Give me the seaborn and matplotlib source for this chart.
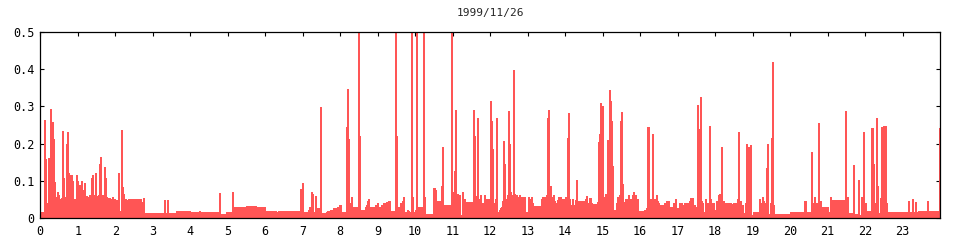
import numpy as np
import pandas as pd
import matplotlib
matplotlib.use("Agg")
import matplotlib.pyplot as plt
import seaborn as sns

title = "1999/11/26"
x_ticks = list(range(0, 24))
y_ticks = [0, 0.1, 0.2, 0.3, 0.4, 0.5]
y_tick_labels = ["0", "0.1", "0.2", "0.3", "0.4", "0.5"]

# step series: each value holds from its minute until the next minute entry
minutes = [
    0, 6.4, 7.4, 9.0, 10.6, 12.8, 13.8, 15.4, 17.0, 18.6, 20.2, 21.8, 23.9, 25.5, 27.1, 28.7,
    30.3, 31.9, 33.5, 35.1, 36.7, 38.3, 39.9, 41.5, 43.1, 44.7, 46.3, 47.9, 49.5, 51.1, 52.7,
    55.9, 57.5, 59.1, 60.6, 62.2, 63.8, 65.4, 67.0, 68.6, 70.2, 71.8, 73.4, 75.0, 78.2, 81.4,
    83.0, 84.6, 86.2, 87.8, 89.4, 92.6, 94.2, 95.8, 97.4, 99.0, 100.5, 102.1, 103.7, 105.3,
    106.9, 108.5, 111.7, 113.3, 114.9, 116.5, 118.1, 119.7, 121.3, 122.9, 124.5, 126.1, 127.7,
    129.3, 130.9, 132.5, 134.1, 135.7, 137.3, 140.4, 161.7, 163.3, 164.9, 166.5, 180.3, 198.0,
    199.6, 202.7, 204.3, 217.6, 223.0, 240.0, 253.8, 255.4, 286.8, 288.4, 298.0, 306.4, 308.0,
    330.0, 345.0, 360.0, 378.0, 381.0, 415.5, 417.1, 418.7, 420.3, 428.3, 429.9, 433.1, 434.7,
    436.3, 438.4, 440.0, 441.6, 443.2, 444.8, 448.0, 449.6, 457.0, 458.7, 463.5, 468.8, 474.1,
    477.3, 479.5, 481.0, 489.0, 490.7, 492.3, 493.9, 495.5, 497.1, 498.7, 508.3, 509.9, 511.5,
    516.8, 519.5, 521.0, 522.7, 524.3, 525.9, 535.5, 538.7, 540.3, 546.1, 548.8, 554.1, 556.8,
    560.0, 568.0, 569.6, 571.2, 572.8, 574.4, 576.0, 579.2, 580.8, 582.4, 587.7, 589.3, 590.9,
    593.0, 594.7, 596.3, 597.9, 599.5, 601.1, 602.7, 604.3, 612.3, 613.9, 615.5, 628.8, 632.0,
    633.6, 641.6, 643.2, 644.8, 657.0, 659.2, 660.8, 662.4, 664.0, 665.6, 667.2, 668.8, 670.9,
    672.5, 674.7, 676.3, 679.5, 692.3, 693.9, 695.5, 697.1, 698.7, 700.3, 703.5, 705.1, 708.3,
    709.9, 711.5, 713.1, 719.5, 721.1, 722.7, 724.3, 727.5, 729.1, 730.7, 733.9, 735.5, 737.1,
    738.7, 740.3, 741.9, 743.5, 746.7, 748.3, 749.9, 751.5, 753.1, 754.7, 756.3, 757.9, 759.5,
    761.1, 762.7, 764.3, 765.9, 767.5, 769.1, 770.7, 775.5, 780.3, 781.9, 783.5, 785.1, 786.7,
    788.3, 801.1, 802.7, 804.3, 805.9, 807.5, 809.1, 810.7, 812.3, 813.9, 815.5, 817.1, 818.7,
    820.3, 821.9, 823.5, 826.7, 828.3, 829.9, 831.5, 833.1, 834.7, 837.9, 839.5, 841.1, 842.7,
    844.3, 845.9, 847.5, 850.7, 852.3, 853.9, 855.5, 857.1, 858.7, 871.5, 873.1, 874.7, 876.3,
    877.9, 881.1, 882.7, 891.7, 893.3, 894.9, 896.5, 898.1, 899.7, 901.3, 902.9, 904.5, 906.1,
    907.7, 909.3, 910.9, 912.5, 914.1, 915.7, 917.3, 922.1, 923.7, 925.3, 926.9, 928.5, 930.1,
    931.7, 933.3, 936.5, 939.7, 941.3, 942.9, 946.1, 947.7, 949.3, 950.9, 952.5, 954.1, 957.3,
    958.9, 966.4, 969.6, 971.2, 974.4, 976.0, 977.6, 979.2, 980.8, 982.4, 985.6, 987.2, 988.8,
    990.4, 998.4, 1001.6, 1003.2, 1004.8, 1006.4, 1011.2, 1012.8, 1014.4, 1016.0, 1017.6,
    1019.2, 1020.8, 1022.4, 1024.0, 1025.6, 1027.2, 1028.8, 1030.4, 1032.0, 1033.6, 1038.4,
    1040.0, 1044.3, 1047.5, 1050.7, 1052.3, 1053.9, 1055.5, 1057.1, 1058.7, 1060.3, 1063.5,
    1065.1, 1070.4, 1072.0, 1073.6, 1075.2, 1076.8, 1078.4, 1080.0, 1081.6, 1083.2, 1084.8,
    1086.4, 1088.0, 1089.6, 1091.2, 1092.8, 1094.4, 1105.0, 1108.3, 1114.7, 1116.3, 1117.9,
    1119.5, 1121.1, 1122.7, 1124.3, 1127.5, 1129.1, 1130.7, 1132.3, 1133.9, 1135.5, 1137.1,
    1140.3, 1149.9, 1151.5, 1153.1, 1154.7, 1156.3, 1157.9, 1161.1, 1162.7, 1164.3, 1167.5,
    1169.1, 1170.7, 1172.3, 1173.9, 1199.5, 1221.9, 1225.1, 1233.6, 1235.2, 1238.4, 1240.0,
    1244.8, 1246.4, 1248.0, 1249.6, 1260.8, 1264.0, 1265.6, 1288.0, 1290.1, 1292.8, 1300.8,
    1302.4, 1308.8, 1310.4, 1313.6, 1315.2, 1316.8, 1318.4, 1321.6, 1329.6, 1332.8, 1334.4,
    1337.6, 1339.2, 1340.8, 1344.0, 1345.6, 1347.2, 1348.8, 1350.4, 1352.0, 1353.6, 1355.2,
    1388.8, 1390.4, 1395.2, 1396.8, 1400.0, 1401.6, 1404.8, 1419.2, 1420.8, 1438.4, 1440.0,
]
values = [
    0.015, 0.264, 0.158, 0.040, 0.025, 0.160, 0.058, 0.293, 0.222, 0.258, 0.212, 0.096, 0.055, 0.025, 0.068, 0.060,
    0.050, 0.030, 0.052, 0.233, 0.107, 0.055, 0.056, 0.200, 0.232, 0.120, 0.115, 0.058, 0.114, 0.100, 0.050,
    0.045, 0.114, 0.100, 0.058, 0.087, 0.052, 0.100, 0.074, 0.065, 0.093, 0.050, 0.058, 0.055, 0.060, 0.108,
    0.114, 0.060, 0.040, 0.120, 0.058, 0.060, 0.146, 0.163, 0.052, 0.060, 0.054, 0.136, 0.108, 0.055,
    0.045, 0.052, 0.050, 0.047, 0.055, 0.048, 0.050, 0.045, 0.048, 0.045, 0.120, 0.018, 0.010,
    0.236, 0.082, 0.064, 0.045, 0.050, 0.048, 0.050, 0.010, 0.042, 0.052, 0.012, 0.014, 0.047,
    0.014, 0.047, 0.014, 0.017, 0.018, 0.015, 0.018, 0.015, 0.066, 0.010, 0.015, 0.069, 0.029,
    0.031, 0.029, 0.018, 0.016, 0.018, 0.077, 0.040, 0.093, 0.015, 0.020, 0.030, 0.068, 0.065,
    0.010, 0.015, 0.058, 0.020, 0.025, 0.027, 0.298, 0.012, 0.015, 0.018, 0.020, 0.025, 0.030,
    0.034, 0.035, 0.015, 0.245, 0.347, 0.213, 0.035, 0.040, 0.055, 0.030, 0.600, 0.220, 0.020,
    0.022, 0.028, 0.035, 0.045, 0.050, 0.030, 0.035, 0.040, 0.030, 0.035, 0.040, 0.042, 0.045,
    0.018, 0.600, 0.220, 0.020, 0.028, 0.030, 0.040, 0.045, 0.055, 0.015, 0.020, 0.018, 0.015,
    0.600, 0.056, 0.012, 0.015, 0.020, 0.600, 0.020, 0.030, 0.600, 0.055, 0.010, 0.080, 0.075,
    0.045, 0.085, 0.190, 0.035, 0.600, 0.035, 0.070, 0.125, 0.290, 0.060, 0.065, 0.008, 0.060,
    0.008, 0.070, 0.050, 0.042, 0.290, 0.220, 0.008, 0.058, 0.270, 0.050, 0.060, 0.040, 0.040,
    0.060, 0.030, 0.050, 0.315, 0.260, 0.185, 0.040, 0.050, 0.270, 0.015, 0.020, 0.025, 0.030,
    0.045, 0.206, 0.145, 0.050, 0.060, 0.288, 0.198, 0.070, 0.055, 0.060, 0.397, 0.065, 0.050,
    0.060, 0.055, 0.030, 0.060, 0.055, 0.030, 0.055, 0.015, 0.055, 0.048, 0.050, 0.055, 0.040,
    0.032, 0.050, 0.055, 0.045, 0.055, 0.010, 0.062, 0.270, 0.290, 0.040, 0.085, 0.038, 0.055,
    0.060, 0.045, 0.040, 0.048, 0.055, 0.015, 0.055, 0.040, 0.050, 0.020, 0.055, 0.042, 0.215,
    0.282, 0.050, 0.035, 0.050, 0.020, 0.035, 0.048, 0.103, 0.045, 0.050, 0.058, 0.040, 0.018,
    0.052, 0.040, 0.038, 0.042, 0.203, 0.225, 0.310, 0.290, 0.300, 0.055, 0.045, 0.065, 0.015,
    0.210, 0.045, 0.344, 0.316, 0.260, 0.140, 0.020, 0.040, 0.055, 0.045, 0.060, 0.260, 0.285,
    0.090, 0.042, 0.050, 0.045, 0.060, 0.050, 0.010, 0.060, 0.070, 0.050, 0.060, 0.050, 0.015,
    0.018, 0.020, 0.025, 0.245, 0.045, 0.050, 0.035, 0.226, 0.020, 0.050, 0.060, 0.045, 0.040,
    0.035, 0.040, 0.045, 0.040, 0.045, 0.028, 0.030, 0.040, 0.030, 0.050, 0.025,
    0.020, 0.025, 0.040, 0.025, 0.040, 0.035, 0.030, 0.040, 0.035, 0.040, 0.045,
    0.052, 0.035, 0.030, 0.304, 0.240, 0.095, 0.325, 0.045, 0.040, 0.015, 0.050,
    0.040, 0.248, 0.050, 0.040, 0.015, 0.040, 0.015, 0.020, 0.045, 0.020, 0.060,
    0.065, 0.045, 0.190, 0.040, 0.045, 0.040, 0.038, 0.040, 0.050, 0.230, 0.040,
    0.045, 0.012, 0.035, 0.012, 0.040, 0.198, 0.050, 0.192, 0.035, 0.196, 0.008,
    0.015, 0.050, 0.015, 0.040, 0.055, 0.045, 0.040, 0.135, 0.198, 0.010, 0.040,
    0.215, 0.420, 0.035, 0.010, 0.015, 0.045, 0.015, 0.177, 0.040, 0.055, 0.040,
    0.255, 0.030, 0.045, 0.030, 0.015, 0.055, 0.048, 0.287, 0.055, 0.012, 0.142,
    0.010, 0.102, 0.008, 0.055, 0.050, 0.230, 0.040, 0.018, 0.241, 0.145, 0.040,
    0.268, 0.085, 0.012, 0.053, 0.245, 0.012, 0.248, 0.010, 0.248, 0.040, 0.015,
    0.045, 0.015, 0.050, 0.015, 0.042, 0.015, 0.018, 0.045, 0.018, 0.241, 0.020,
]

n = min(len(minutes), len(values))
df = pd.DataFrame({"hour": np.array(minutes[:n]) / 60.0, "value": values[:n]})

sns.set_style("ticks")
plt.rcParams["font.family"] = ["DejaVu Sans Mono"]

color = "#ff5555"
fig = plt.figure(figsize=(9.6, 2.4), dpi=100)
ax = fig.add_axes([40.3 / 960, 22.3 / 240, 899.7 / 960, 185.4 / 240])

ax.fill_between(df["hour"], 0, df["value"], step="post", color=color,
                linewidth=0, antialiased=False, zorder=1)
sns.lineplot(data=df, x="hour", y="value", drawstyle="steps-post", color=color,
             linewidth=0.7, antialiased=False, ax=ax, zorder=1)

ax.set_xlim(0, 24)
ax.set_ylim(0, 0.5)
ax.set_xticks(x_ticks)
ax.set_xticklabels([str(t) for t in x_ticks])
ax.set_yticks(y_ticks)
ax.set_yticklabels(y_tick_labels)
ax.set_xlabel("")
ax.set_ylabel("")
ax.set_axisbelow(True)
ax.tick_params(axis="both", direction="in", length=3, width=0.8, labelsize=8.5,
               colors="black", top=True, right=True)
ax.tick_params(axis="x", pad=5)
ax.tick_params(axis="y", pad=4)
for s in ax.spines.values():
    s.set_visible(True)
    s.set_color("black")
    s.set_linewidth(0.9)
ax.set_title(title, fontsize=8, pad=12)

fig.savefig("out.png", dpi=100)
